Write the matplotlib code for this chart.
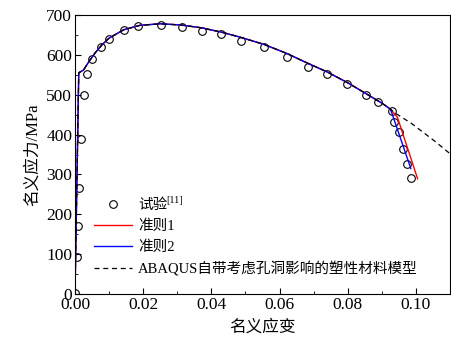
import matplotlib.pyplot as plt
from matplotlib.ticker import MultipleLocator

plt.rcParams['font.family'] = ['Liberation Serif', 'Noto Sans CJK SC']

# test points (nominal strain, nominal stress MPa)
test_strain = [0.0, 0.0007, 0.0010, 0.0012, 0.0017, 0.0027, 0.0034, 0.0051, 0.0075,
               0.0100, 0.0143, 0.0186, 0.0252, 0.0313, 0.0373, 0.0427, 0.0488,
               0.0555, 0.0621, 0.0682, 0.0738, 0.0798, 0.0853, 0.0889, 0.0931,
               0.0937, 0.0949, 0.0961, 0.0973, 0.0986]
test_stress = [3, 94, 170, 265, 388, 499, 553, 589, 619,
               641, 662, 672, 676, 671, 660, 652, 635,
               619, 594, 570, 553, 526, 499, 481, 460,
               432, 407, 364, 327, 290]

# shared part of the simulated curves
base_strain = [0.0, 0.0011, 0.0025, 0.004, 0.006, 0.008, 0.010, 0.0143, 0.019,
               0.025, 0.031, 0.037, 0.043, 0.049, 0.0555, 0.062, 0.068, 0.074,
               0.080, 0.0855, 0.090, 0.0925]
base_stress = [0, 555, 562, 582, 606, 626, 642, 663, 674,
               678, 675, 668, 657, 643, 626, 604, 580, 557,
               530, 502, 479, 464]

crit1_strain = base_strain + [0.0946, 0.1005]
crit1_stress = base_stress + [443, 289]
crit2_strain = base_strain + [0.0929, 0.0985]
crit2_stress = base_stress + [455, 315]
abaqus_strain = base_strain + [0.0939, 0.0987, 0.1056, 0.1100]
abaqus_stress = base_stress + [454, 428, 383, 352]

fig = plt.figure(figsize=(4.51, 3.45), dpi=100)
ax = fig.add_axes([0.1663, 0.1478, 0.8315, 0.8087])

ax.plot(test_strain, test_stress, 'o', mfc='none', mec='black', ms=5.5, mew=0.8,
        label='试验')
ax.plot(crit1_strain, crit1_stress, color='red', lw=1.0, label='准则1')
ax.plot(crit2_strain, crit2_stress, color='blue', lw=1.0, label='准则2')
ax.plot(abaqus_strain, abaqus_stress, color='black', lw=0.9, ls=(0, (4, 3)),
        label='ABAQUS自带考虑孔洞影响的塑性材料模型')

ax.set_xlim(0, 0.11)
ax.set_ylim(0, 700)
ax.xaxis.set_major_locator(MultipleLocator(0.02))
ax.xaxis.set_minor_locator(MultipleLocator(0.01))
ax.yaxis.set_major_locator(MultipleLocator(100))
ax.yaxis.set_minor_locator(MultipleLocator(50))
ax.xaxis.set_major_formatter(plt.FuncFormatter(lambda v, p: f'{v:.2f}'))
ax.tick_params(which='both', direction='in', labelsize=12.5, pad=2)
ax.tick_params(which='major', length=4)
ax.tick_params(which='minor', length=2.5)

ax.set_xlabel('名义应变', fontsize=12, labelpad=5)
ax.set_ylabel('名义应力/MPa', fontsize=12, labelpad=4)

leg = ax.legend(loc='lower left', bbox_to_anchor=(0.015, 0.017), frameon=False,
                fontsize=10.5, handlelength=2.6, labelspacing=0.5, handletextpad=0.45)

# superscript reference mark after the first legend entry
fig.canvas.draw()
bb = leg.get_texts()[0].get_window_extent()
x0, y0 = fig.transFigure.inverted().transform((bb.x1 - 1, bb.y1 - 2))
fig.text(x0, y0, '[11]', fontsize=7.5, ha='left', va='center')

fig.savefig('out.png', dpi=100)
